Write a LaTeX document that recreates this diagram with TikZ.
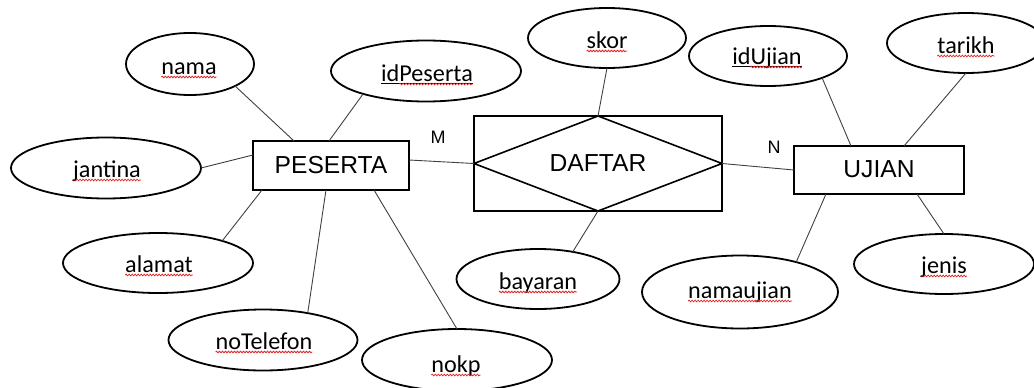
\documentclass[tikz,border=0pt]{standalone}
\usepackage{fontspec}
\setmainfont{Carlito}
\newfontfamily\arialf{Liberation Sans}
\usetikzlibrary{shapes.geometric,decorations.pathmorphing}
\definecolor{squigred}{HTML}{E02424}
\begin{document}
\begin{tikzpicture}[x=1pt,y=-1pt,
  attr/.style={ellipse,draw,line width=1.8pt,inner sep=0pt,outer sep=0pt},
  atext/.style={inner sep=0pt,outer sep=0pt,anchor=base,font=\fontsize{24.2}{28}\selectfont},
  ent/.style={rectangle,draw,line width=1.6pt,inner sep=0pt,outer sep=0pt,font=\arialf\fontsize{24.6}{28}\selectfont,text depth=1.5pt},
  conn/.style={line width=0.9pt,draw=black!75},
  squig/.style={draw=squigred,line width=0.8pt,decorate,decoration={snake,amplitude=0.8pt,segment length=3pt}},
  keyul/.style={draw=black,line width=1.2pt},
  card/.style={inner sep=0pt,font=\arialf\fontsize{18}{20}\selectfont}
]
\useasboundingbox (0,0) rectangle (1034,388);
\clip (0,0) rectangle (1034,388);

% entities
\node[ent,minimum width=156pt,minimum height=49pt] (peserta) at (331,165.5) {PESERTA};
\node[ent,minimum width=248pt,minimum height=95pt] (daftar) at (598,163.5) {DAFTAR};
\draw[line width=1.6pt] (daftar.west) -- (daftar.north) -- (daftar.east) -- (daftar.south) -- cycle;
\node[ent,minimum width=170pt,minimum height=48pt] (ujian) at (879,170) {UJIAN};

% cardinalities
\node[card] (lblM) at (438,137) {M};
\node[card] (lblN) at (774,147) {N};

% attributes
\node[attr,minimum width=128pt,minimum height=62pt] (nama) at (190,64) {};
\node[atext] (namaT) at (189,74) {nama};
\node[attr,minimum width=190pt,minimum height=61pt] (idPeserta) at (426,71) {};
\node[atext] (idPesertaT) at (427,81) {idPeserta};
\node[attr,minimum width=190pt,minimum height=61pt] (jantina) at (106,168) {};
\node[atext] (jantinaT) at (107,177) {jantina};
\node[attr,minimum width=190pt,minimum height=60pt] (alamat) at (158,263) {};
\node[atext] (alamatT) at (159,272) {alamat};
\node[attr,minimum width=189pt,minimum height=61pt] (noTelefon) at (263,340) {};
\node[atext] (noTelefonT) at (264,349) {noTelefon};
\node[attr,minimum width=190pt,minimum height=62pt] (nokp) at (457,360) {};
\node[atext] (nokpT) at (456,372) {nokp};
\node[attr,minimum width=158pt,minimum height=60pt] (skor) at (607,38) {};
\node[atext] (skorT) at (607,48) {skor};
\node[attr,minimum width=158pt,minimum height=60pt] (idUjian) at (768,56) {};
\node[atext] (idUjianT) at (767,64) {idUjian};
\node[attr,minimum width=158pt,minimum height=60pt] (tarikh) at (966,43) {};
\node[atext] (tarikhT) at (966,53) {tarikh};
\node[attr,minimum width=163pt,minimum height=60pt] (bayaran) at (538,279) {};
\node[atext] (bayaranT) at (538,289) {bayaran};
\node[attr,minimum width=196pt,minimum height=73pt] (namaujian) at (740,292) {};
\node[atext] (namaujianT) at (740,298) {namaujian};
\node[attr,minimum width=180pt,minimum height=60pt] (jenis) at (944,264) {};
\node[atext] (jenisT) at (944,273) {jenis};

% underlines
\foreach \t in {namaT,jantinaT,alamatT,noTelefonT,nokpT,skorT,tarikhT,bayaranT,namaujianT,jenisT}
  \draw[squig] ([yshift=-3pt]\t.base west) -- ([yshift=-3pt]\t.base east);
\draw[keyul] ([yshift=-2.5pt]idPesertaT.base west) -- ([yshift=-2.5pt]idPesertaT.base east);
\draw[squig] ([xshift=18pt,yshift=-3pt]idPesertaT.base west) -- ([yshift=-3pt]idPesertaT.base east);
\draw[keyul] ([yshift=-2.5pt]idUjianT.base west) -- ([yshift=-2.5pt]idUjianT.base east);
\draw[squig] ([xshift=18pt,yshift=-3pt]idUjianT.base west) -- ([yshift=-3pt]idUjianT.base east);

% connectors
\draw[conn] (nama.-26) -- ([xshift=41pt]peserta.north west);
\draw[conn] (idPeserta.200) -- ([xshift=76pt]peserta.north west);
\draw[conn] (jantina.east) -- ([yshift=-14pt]peserta.north west);
\draw[conn] (alamat.19) -- ([xshift=9pt]peserta.south west);
\draw[conn] (noTelefon.31) -- ([xshift=73pt]peserta.south west);
\draw[conn] (nokp.north) -- ([xshift=121pt]peserta.south west);
\draw[conn] ([yshift=-19pt]peserta.north east) -- (daftar.west);
\draw[conn] (skor.south) -- (daftar.north);
\draw[conn] (bayaran.38) -- (daftar.south);
\draw[conn] (daftar.east) -- (ujian.west);
\draw[conn] (idUjian.-22) -- ([xshift=57pt]ujian.north west);
\draw[conn] (tarikh.south) -- ([xshift=110pt]ujian.north west);
\draw[conn] (namaujian.28) -- ([xshift=32pt]ujian.south west);
\draw[conn] (jenis.north) -- ([xshift=123pt]ujian.south west);
\end{tikzpicture}
\end{document}
